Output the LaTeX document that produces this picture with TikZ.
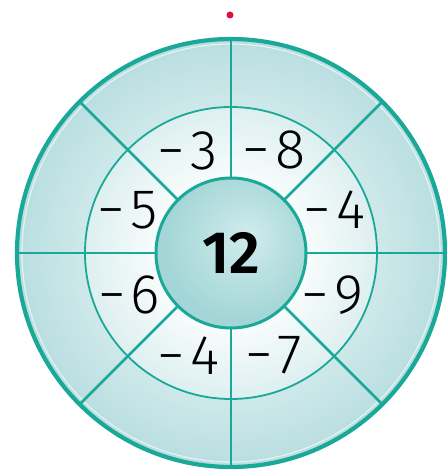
\documentclass[tikz,border=0pt]{standalone}
\usepackage{fontspec}
\setmainfont{Fira Sans Light}[BoldFont=Fira Sans SemiBold]
\usepackage{xcolor}
\usepackage{tikz}
\usetikzlibrary{positioning}

\definecolor{rimteal}{HTML}{1AA898}
\definecolor{rimdeep}{HTML}{B9DEE0}
\definecolor{rimpale}{HTML}{CFE9EA}
\definecolor{ringpale}{HTML}{F8FCFC}
\definecolor{ringedge}{HTML}{DDEFF0}
\definecolor{hubpale}{HTML}{D0ECEC}
\definecolor{hubdeep}{HTML}{A5D6D7}
\definecolor{dotred}{HTML}{E0103A}

\pgfdeclareradialshading{rimshade}{\pgfpoint{0bp}{0bp}}{color(0bp)=(rimpale); color(16.9bp)=(rimpale); color(25bp)=(rimdeep); color(50bp)=(rimdeep)}
\pgfdeclareradialshading{ringshade}{\pgfpoint{0bp}{0bp}}{color(0bp)=(ringpale); color(12.8bp)=(ringpale); color(25bp)=(ringedge); color(50bp)=(ringedge)}
\pgfdeclareradialshading{hubshade}{\pgfpoint{6bp}{6bp}}{color(0bp)=(hubpale); color(25bp)=(hubdeep); color(50bp)=(hubdeep)}

\begin{document}
\begin{tikzpicture}[x=1bp, y=1bp, every node/.style={font=\fontsize{56}{56}\selectfont}]
    \tikzstyle{disc} = [circle, draw=rimteal, inner sep=0pt, outer sep=0pt]
    \tikzstyle{spoke} = [draw=rimteal, line width=2.6bp]
    \tikzstyle{num} = [inner sep=0pt, text=black]
    \useasboundingbox (-231,-218) rectangle (216,253);

    \node (rim) [disc, minimum size=428bp, line width=4.2bp, shading=rimshade] at (0,0) {};
    \draw [white, opacity=0.6, line width=1.2bp] (rim.center) circle (209);
    \node (ring) [disc, minimum size=292bp, line width=1.8bp, shading=ringshade] at (0,0) {};
    \foreach \a in {0,45,...,315}
        \draw [spoke] (ring.center) -- (rim.\a);
    \node (hub) [disc, minimum size=150bp, line width=3bp, shading=hubshade,
        font=\bfseries\fontsize{60}{60}\selectfont] at (0,0) {12};

    \node (m3) [num] at (113:111) {−\kern5bp3};
    \node (m8) [num] at (67.5:112) {−\kern5bp8};
    \node (m5) [num] at (157.5:112) {−\kern5bp5};
    \node (m4a) [num] at (22.5:112) {−\kern5bp4};
    \node (m6) [num] at (202.5:110) {−\kern5bp6};
    \node (m9) [num] at (-22.5:110) {−\kern5bp9};
    \node (m4b) [num] at (247.5:111) {−\kern5bp4};
    \node (m7) [num] at (292.5:111) {−\kern5bp7};

    \node (pin) [circle, fill=dotred, inner sep=0pt, minimum size=7bp] at (-1,238) {};
\end{tikzpicture}
\end{document}
